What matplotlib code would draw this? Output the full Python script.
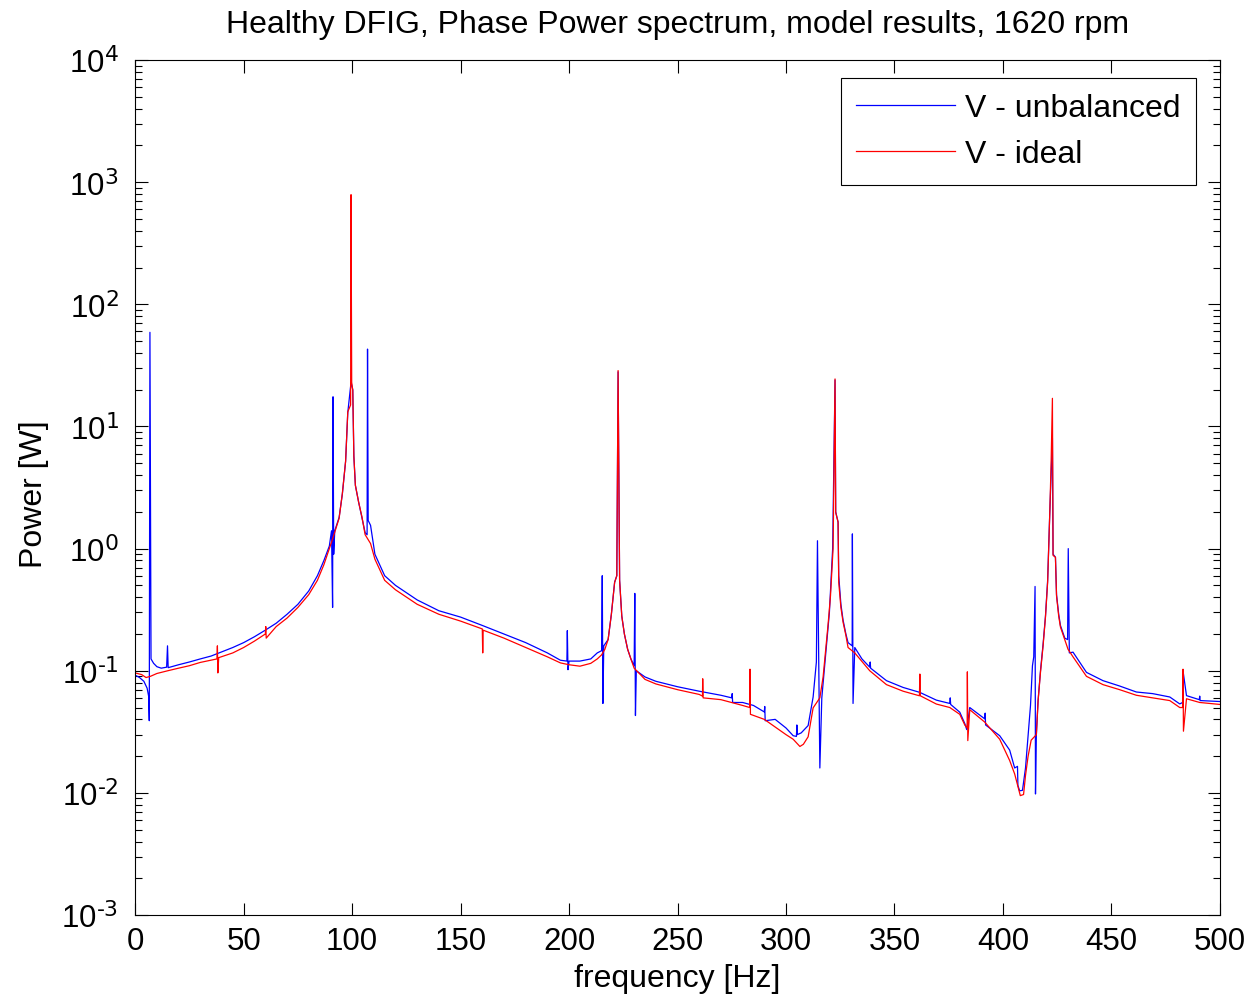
import matplotlib
matplotlib.use('Agg')
import matplotlib.pyplot as plt
from matplotlib.ticker import LogLocator, NullFormatter, FuncFormatter
import numpy as np

plt.rcParams['font.family'] = ['Liberation Sans', 'DejaVu Sans']
plt.rcParams['mathtext.default'] = 'regular'
plt.rcParams['axes.unicode_minus'] = False

# V - unbalanced (blue)
f_unbal = [0, 2, 4, 5.5, 6.2, 6.5, 6.8, 7.3, 8.5, 10, 12, 14.5, 14.9, 15.2,
           20, 25, 30, 35, 45, 50, 55, 60, 65, 70, 75, 80, 84, 87, 89.5, 90.5,
           91, 91.2, 91.5, 92, 94, 95.5, 97, 98, 99.5, 100.3, 100.8, 101.5,
           103, 104.5, 106, 106.9, 107.1, 107.4, 108.5, 110.5, 115, 120, 130,
           140, 150, 160, 170, 180, 190, 196, 199, 199.2, 199.5, 200, 205,
           210, 213, 215, 215.3, 215.6, 216, 218, 219.5, 221, 222, 222.6,
           223.3, 224.3, 225.5, 227, 228.5, 230, 230.3, 230.6, 231, 235, 240,
           250, 260, 270, 275, 275.2, 275.4, 280, 285, 290, 290.2, 290.4, 295,
           300, 303.3, 304.8, 305, 305.2, 307, 310.2, 312.5, 314, 314.5,
           315.6, 316.5, 318, 320, 321.5, 322.6, 322.9, 324, 324.3, 325.3,
           326.3, 327.6, 328.6, 330.5, 330.6, 330.9, 331.7, 335, 338.6, 338.8,
           339, 346.3, 354, 361.7, 369.3, 375.5, 375.7, 375.9, 380.1, 382.4,
           383.3, 384.7, 391.6, 391.8, 392, 398.5, 403.1, 405.4, 406.7, 406.9,
           407.7, 409, 410.4, 411.6, 412.7, 413.6, 414.2, 414.8, 415, 415.4,
           416.2, 417.3, 418.5, 419.6, 420.6, 421.6, 422.8, 423.1, 424.2,
           424.7, 425.7, 426.5, 428.5, 429.8, 430.1, 430.6, 432.3, 438.5,
           446.1, 453.8, 461.5, 469, 476.9, 481.5, 482.8, 483, 484.6, 490.5,
           490.7, 490.9, 500]
p_unbal = [0.092, 0.088, 0.082, 0.072, 0.062, 0.039, 59, 0.125, 0.115, 0.108,
           0.105, 0.107, 0.16, 0.106, 0.112, 0.118, 0.125, 0.132, 0.155, 0.17,
           0.19, 0.215, 0.245, 0.29, 0.35, 0.45, 0.6, 0.8, 1.05, 1.4, 0.33,
           17.5, 0.9, 1.4, 1.8, 2.8, 5.2, 13, 23, 20, 5.7, 3.3, 2.4, 1.8, 1.35,
           1.3, 43, 1.7, 1.55, 0.9, 0.6, 0.5, 0.38, 0.31, 0.275, 0.235, 0.2,
           0.17, 0.14, 0.122, 0.12, 0.213, 0.102, 0.12, 0.12, 0.125, 0.14,
           0.146, 0.6, 0.054, 0.16, 0.18, 0.29, 0.53, 0.6, 28, 0.55, 0.28, 0.2,
           0.15, 0.125, 0.11, 0.43, 0.043, 0.1, 0.089, 0.082, 0.074, 0.068,
           0.063, 0.06, 0.065, 0.055, 0.055, 0.052, 0.046, 0.051, 0.039, 0.04,
           0.034, 0.0294, 0.029, 0.036, 0.03, 0.031, 0.0356, 0.061, 0.118, 1.16,
           0.016, 0.06, 0.12, 0.3, 1.0, 24, 2.0, 1.65, 0.6, 0.35, 0.26, 0.2,
           0.17, 0.16, 1.32, 0.054, 0.155, 0.125, 0.107, 0.118, 0.105, 0.083,
           0.073, 0.0665, 0.0575, 0.054, 0.06, 0.053, 0.0458, 0.037, 0.033,
           0.05, 0.0404, 0.045, 0.036, 0.0294, 0.0224, 0.016, 0.0165, 0.0115,
           0.0104, 0.0105, 0.016, 0.03, 0.052, 0.11, 0.13, 0.49, 0.0098, 0.03,
           0.057, 0.1, 0.165, 0.28, 0.55, 2.0, 8, 0.9, 0.85, 0.42, 0.29, 0.235,
           0.185, 0.18, 1.0, 0.14, 0.142, 0.097, 0.083, 0.075, 0.067, 0.065,
           0.061, 0.0535, 0.055, 0.1, 0.0626, 0.058, 0.062, 0.057, 0.056]

# V - ideal (red)
f_ideal = [0, 3, 5, 7, 10, 15, 20, 25, 30, 37.7, 37.9, 38.1, 38.5, 45, 50,
           55, 60, 60.2, 60.4, 65, 70, 75, 80, 84, 87, 89.5, 91, 94, 95.5, 97,
           98, 99.3, 99.5, 99.8, 100.3, 100.8, 101.5, 103, 104.5, 106, 108.5,
           110.5, 115, 120, 130, 140, 150, 160, 160.2, 160.4, 170, 180, 190,
           196, 200, 205, 210, 213, 215, 216.5, 218, 219.5, 221, 222, 222.6,
           223.3, 224.3, 225.5, 227, 228.5, 230, 235, 240, 250, 260, 261.5,
           261.6, 261.8, 270, 280, 283.3, 283.4, 283.6, 290, 300, 303.3, 306.4,
           308, 310.2, 312.5, 315.6, 317.1, 318.3, 319.4, 320.5, 321.7, 322.6,
           322.9, 324, 324.3, 325.3, 326.3, 327.6, 328.6, 331.7, 338.6, 346.3,
           354, 361.5, 361.7, 361.9, 369.3, 375.5, 380.1, 382.4, 383.5, 383.6,
           383.8, 384.7, 391.6, 398.5, 403.1, 405.4, 408, 409.5, 410.4, 411.6,
           413, 415.4, 416.2, 417.3, 418.5, 419.6, 420.6, 421.6, 422.2, 422.8,
           423.1, 424.2, 424.7, 425.7, 426.5, 428.5, 430, 432.3, 438.5, 446.1,
           453.8, 461.5, 469, 476.9, 481.5, 482.8, 483, 483.2, 484.6, 490.7,
           500]
p_ideal = [0.096, 0.093, 0.088, 0.09, 0.095, 0.1, 0.105, 0.11, 0.117, 0.125,
           0.16, 0.096, 0.128, 0.14, 0.155, 0.175, 0.2, 0.23, 0.185, 0.23,
           0.27, 0.33, 0.42, 0.55, 0.74, 1.0, 1.2, 1.77, 2.83, 5.2, 13.2, 15,
           790, 23, 19.7, 5.7, 3.3, 2.4, 1.83, 1.3, 1.1, 0.82, 0.55, 0.46,
           0.35, 0.29, 0.255, 0.22, 0.14, 0.215, 0.185, 0.155, 0.13, 0.116,
           0.112, 0.109, 0.115, 0.125, 0.135, 0.15, 0.18, 0.29, 0.53, 0.6,
           28.7, 0.55, 0.28, 0.2, 0.15, 0.125, 0.105, 0.085, 0.078, 0.07,
           0.064, 0.062, 0.086, 0.06, 0.058, 0.052, 0.05, 0.103, 0.044, 0.04,
           0.03, 0.0275, 0.024, 0.025, 0.0288, 0.0497, 0.06, 0.089, 0.15, 0.24,
           0.41, 1.0, 24.5, 1.98, 1.65, 0.53, 0.33, 0.25, 0.195, 0.155, 0.14,
           0.1, 0.077, 0.068, 0.0624, 0.094, 0.0624, 0.0534, 0.05, 0.044,
           0.036, 0.034, 0.098, 0.0268, 0.048, 0.038, 0.0275, 0.0184, 0.0143,
           0.0095, 0.0097, 0.0139, 0.02, 0.027, 0.03, 0.057, 0.097, 0.16, 0.275,
           0.53, 2.0, 5.0, 17, 0.88, 0.85, 0.41, 0.28, 0.228, 0.18, 0.15, 0.13,
           0.09, 0.077, 0.07, 0.063, 0.06, 0.057, 0.05, 0.05, 0.103, 0.032,
           0.059, 0.055, 0.053]

y_exponents = [-3, -2, -1, 0, 1, 2, 3, 4]


def pow10_label(v, pos):
    e = int(round(np.log10(v)))
    return r'$10^{\text{%d}}$' % e


fig = plt.figure(figsize=(12.54, 10.04), dpi=100)
ax = fig.add_axes([0.1078, 0.0876, 0.8650, 0.8516])

ax.semilogy(f_unbal, p_unbal, color='blue', lw=0.9, label='V - unbalanced')
ax.semilogy(f_ideal, p_ideal, color='red', lw=0.9, label='V - ideal')

ax.set_xlim(0, 500)
ax.set_ylim(1e-3, 1e4)
ax.set_xticks(range(0, 501, 50))
ax.set_yticks([10.0 ** e for e in y_exponents])
ax.yaxis.set_major_formatter(FuncFormatter(pow10_label))
ax.yaxis.set_minor_locator(LogLocator(base=10, subs=range(2, 10), numticks=12))
ax.yaxis.set_minor_formatter(NullFormatter())
ax.set_ylim(1e-3, 1e4)
ax.tick_params(which='both', direction='in', top=True, right=True,
               labelsize=22.5, width=0.8)
ax.tick_params(which='major', length=9)
ax.tick_params(which='minor', length=5)
ax.tick_params(axis='x', which='major', pad=8)
ax.tick_params(axis='y', which='major', pad=12)
for s in ax.spines.values():
    s.set_linewidth(0.8)

ax.set_title('Healthy DFIG, Phase Power spectrum, model results, 1620 rpm',
             fontsize=23, pad=20)
ax.set_xlabel('frequency [Hz]', fontsize=23)
ax.set_ylabel('Power [W]', fontsize=23)
ax.xaxis.set_label_coords(0.5, -0.056)
ax.yaxis.set_label_coords(-0.079, 0.4936)

leg = ax.legend(loc='upper right', bbox_to_anchor=(0.978, 0.979), fontsize=23,
                fancybox=False, framealpha=1, edgecolor='black',
                handlelength=3.1, handletextpad=0.31, borderpad=0.48,
                labelspacing=0.5, borderaxespad=0)
leg.get_frame().set_linewidth(0.8)

fig.savefig('out.png', dpi=100)
